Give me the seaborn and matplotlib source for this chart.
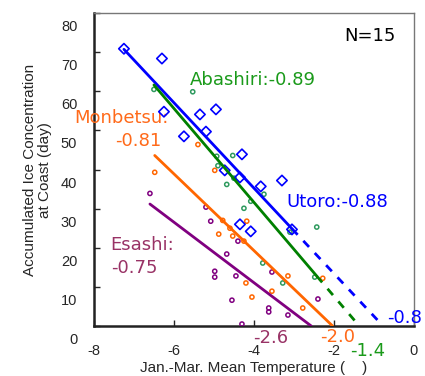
import numpy as np
import pandas as pd
import matplotlib
matplotlib.use('Agg')
import matplotlib.pyplot as plt
import matplotlib.transforms as mtransforms
import seaborn as sns

# Jan.-Mar. mean temperature vs accumulated ice concentration, 4 stations, N=15 each
utoro_t = [-7.25, -6.30, -6.25, -5.35, -4.95, -5.20, -5.75, -4.30, -4.73, -4.35, -3.83, -3.30, -3.05, -4.35, -4.08]
utoro_ice = [70.9, 68.4, 54.8, 54.1, 55.4, 49.7, 48.5, 43.9, 39.8, 38.0, 35.7, 37.2, 24.7, 26.0, 24.2]

abashiri_t = [-6.50, -5.53, -4.53, -4.93, -4.68, -4.50, -3.75, -4.08, -4.25, -3.10, -2.43, -3.78, -3.28, -2.48, -4.90]
abashiri_ice = [60.5, 59.9, 43.6, 43.4, 36.2, 37.8, 33.7, 31.9, 30.1, 24.0, 25.3, 16.1, 11.0, 12.5, 41.0]

monbetsu_t = [-6.48, -5.40, -4.98, -4.78, -4.18, -4.88, -4.53, -4.25, -4.20, -4.05, -3.15, -3.55, -2.78, -2.28, -4.60]
monbetsu_ice = [39.3, 46.4, 39.8, 27.0, 26.8, 23.5, 23.0, 21.7, 11.0, 7.4, 12.8, 8.9, 4.6, 12.2, 25.0]

esashi_t = [-6.60, -5.20, -5.08, -4.40, -4.68, -4.98, -4.98, -4.45, -4.55, -4.30, -3.55, -3.63, -3.63, -3.15, -2.40]
esashi_ice = [33.9, 30.4, 26.8, 21.7, 18.4, 14.0, 12.5, 12.8, 6.6, 0.5, 13.8, 4.6, 3.6, 2.8, 6.9]

stations = ['Utoro', 'Abashiri', 'Monbetsu', 'Esashi']
corr = ['-0.88', '-0.89', '-0.81', '-0.75']
x_zero = ['-0.8', '-1.4', '-2.0', '-2.6']

df = pd.concat([
    pd.DataFrame({'station': 'Utoro', 'temp': utoro_t, 'ice': utoro_ice}),
    pd.DataFrame({'station': 'Abashiri', 'temp': abashiri_t, 'ice': abashiri_ice}),
    pd.DataFrame({'station': 'Monbetsu', 'temp': monbetsu_t, 'ice': monbetsu_ice}),
    pd.DataFrame({'station': 'Esashi', 'temp': esashi_t, 'ice': esashi_ice}),
])

# styles
point_color = {'Utoro': '#0000ff', 'Abashiri': '#2e9a5e', 'Monbetsu': '#ff6600', 'Esashi': '#800080'}
line_color = {'Utoro': '#0000ff', 'Abashiri': '#008000', 'Monbetsu': '#ff6600', 'Esashi': '#800080'}
text_color = {'Utoro': '#0000ff', 'Abashiri': '#1a9a1a', 'Monbetsu': '#ff6a1a', 'Esashi': '#993366'}
dashed_ext = {'Utoro': True, 'Abashiri': True, 'Monbetsu': False, 'Esashi': False}

sns.set_style('ticks')
plt.rcParams['font.family'] = ['Liberation Sans', 'DejaVu Sans']
plt.rcParams['axes.unicode_minus'] = False

fig = plt.figure(figsize=(4.25, 3.76), dpi=100)
ax = fig.add_axes([0.221, 0.133, 0.753, 0.832])

for st in stations:
    d = df[df['station'] == st]
    if st == 'Utoro':
        sns.scatterplot(x=d['temp'], y=d['ice'], marker='D', s=28, facecolors='none',
                        edgecolors=point_color[st], linewidth=1.2, ax=ax, zorder=4)
    else:
        sns.scatterplot(x=d['temp'], y=d['ice'], marker='o', s=9, facecolors='none',
                        edgecolors=point_color[st], linewidth=1.1, ax=ax, zorder=3)

    # regression line, extended to the x-intercept
    a, b = np.polyfit(d['temp'], d['ice'], 1)
    x0 = -b / a
    xmin, xmax = d['temp'].min(), d['temp'].max()
    if dashed_ext[st]:
        xs = np.array([xmin, min(xmax, x0)])
        ax.plot(xs, a * xs + b, color=line_color[st], lw=2, zorder=5)
        xe = np.array([xmax, x0])
        ax.plot(xe, a * xe + b, color=line_color[st], lw=2, ls=(0, (3, 3)), zorder=5)
    else:
        xs = np.array([xmin, x0])
        ax.plot(xs, a * xs + b, color=line_color[st], lw=2, zorder=5)

ax.set_xlim(-8, 0)
ax.set_ylim(0, 80)
ax.set_xticks(np.arange(-8, 1, 2))
ax.set_yticks(np.arange(0, 81, 10))
ax.tick_params(direction='in', length=4, width=1, labelsize=10.5, top=False, right=False)
ax.tick_params(axis='x', pad=13)
ax.tick_params(axis='y', pad=12)
for lab in ax.get_yticklabels():
    lab.set_transform(lab.get_transform() + mtransforms.ScaledTranslation(0, -9 / 72, fig.dpi_scale_trans))

for side in ['left', 'bottom']:
    ax.spines[side].set_linewidth(1.8)
    ax.spines[side].set_color('#222222')
for side in ['top', 'right']:
    ax.spines[side].set_linewidth(1.0)
    ax.spines[side].set_color('#777777')

ax.set_xlabel('Jan.-Mar. Mean Temperature (    )', fontsize=11)
ax.set_ylabel('Accumulated Ice Concentration\nat Coast (day)', fontsize=11, linespacing=1.15)
ax.xaxis.set_label_coords(0.5, -0.113)
ax.yaxis.set_label_coords(-0.13, 0.5)

lab_kw = dict(fontsize=13, family='DejaVu Sans', va='center', ha='left', clip_on=False)
ax.text(-1.73, 74.2, 'N=15', color='black', **lab_kw)
ax.text(-5.6, 62.8, 'Abashiri:' + corr[1], color=text_color['Abashiri'], **lab_kw)
ax.text(-8.48, 53.1, 'Monbetsu:', color=text_color['Monbetsu'], **lab_kw)
ax.text(-7.48, 47.4, corr[2], color=text_color['Monbetsu'], **lab_kw)
ax.text(-3.18, 31.6, 'Utoro:' + corr[0], color=text_color['Utoro'], **lab_kw)
ax.text(-7.58, 20.7, 'Esashi:', color=text_color['Esashi'], **lab_kw)
ax.text(-7.58, 14.8, corr[3], color=text_color['Esashi'], **lab_kw)

ax.text(-0.68, 2.0, x_zero[0], color=text_color['Utoro'], **lab_kw)
ax.text(-1.6, -6.4, x_zero[1], color=text_color['Abashiri'], **lab_kw)
ax.text(-2.35, -2.8, x_zero[2], color=text_color['Monbetsu'], **lab_kw)
ax.text(-4.03, -3.1, x_zero[3], color=text_color['Esashi'], **lab_kw)

fig.savefig('out.png', dpi=100)
